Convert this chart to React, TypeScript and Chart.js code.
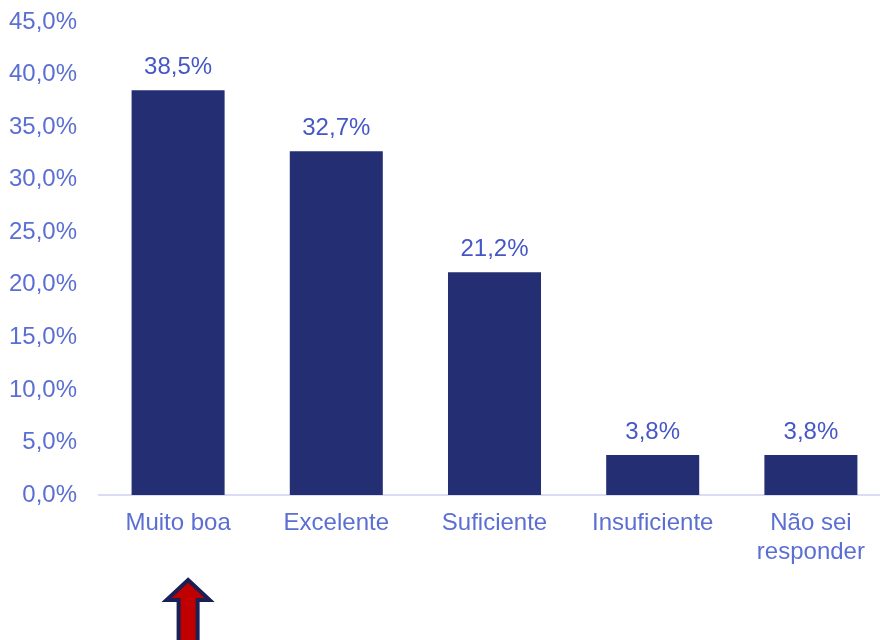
import React, { useEffect, useRef } from "react";
import { Chart, registerables } from "chart.js";

Chart.register(...registerables);

const categories: (string | string[])[] = [
  "Muito boa",
  "Excelente",
  "Suficiente",
  "Insuficiente",
  ["Não sei", "responder"],
];
const values = [38.5, 32.7, 21.2, 3.8, 3.8];
const yMin = 0;
const yMax = 45;
const yStep = 5;
const highlightIndex = 0;

const FONT = "'Liberation Sans', Arial, Helvetica, sans-serif";
const BAR_COLOR = "#232e73";
const TICK_COLOR = "#5b6fd3";
const VALUE_COLOR = "#4556c6";
const AXIS_COLOR = "#d9dcf2";

const fmt = (v: number) => v.toFixed(1).replace(".", ",") + "%";

const valueLabels = {
  id: "valueLabels",
  afterDatasetsDraw(chart: any) {
    const ctx = chart.ctx;
    const meta = chart.getDatasetMeta(0);
    ctx.save();
    ctx.font = `24px ${FONT}`;
    ctx.fillStyle = VALUE_COLOR;
    ctx.textAlign = "center";
    ctx.textBaseline = "middle";
    meta.data.forEach((bar: any, i: number) => {
      ctx.fillText(fmt(values[i]), bar.x, bar.y - 23);
    });
    ctx.restore();
  },
};

const arrowMark = {
  id: "arrowMark",
  afterDraw(chart: any) {
    const ctx = chart.ctx;
    const x = chart.scales.x.getPixelForValue(highlightIndex) + 10;
    const tip = chart.chartArea.bottom + 85;
    const base = tip + 20;
    ctx.save();
    ctx.beginPath();
    ctx.moveTo(x, tip);
    ctx.lineTo(x + 21.5, base);
    ctx.lineTo(x + 9.5, base);
    ctx.lineTo(x + 9.5, tip + 80);
    ctx.lineTo(x - 9.5, tip + 80);
    ctx.lineTo(x - 9.5, base);
    ctx.lineTo(x - 21.5, base);
    ctx.closePath();
    ctx.fillStyle = "#c00000";
    ctx.fill();
    ctx.lineWidth = 4;
    ctx.lineJoin = "miter";
    ctx.strokeStyle = "#1a1f55";
    ctx.stroke();
    ctx.restore();
  },
};

export default function App() {
  const ref = useRef<HTMLCanvasElement | null>(null);

  useEffect(() => {
    if (!ref.current) return;
    document.body.style.overflow = "hidden";
    const chart = new Chart(ref.current, {
      type: "bar",
      data: {
        labels: categories as any,
        datasets: [
          {
            data: values,
            backgroundColor: BAR_COLOR,
            borderWidth: 0,
            categoryPercentage: 1,
            barPercentage: 0.588,
          },
        ],
      },
      options: {
        responsive: false,
        animation: false,
        layout: { padding: { top: 22, left: 0, right: 0, bottom: 0 } },
        plugins: {
          legend: { display: false },
          tooltip: { enabled: false },
        },
        scales: {
          x: {
            grid: { display: false, drawTicks: false },
            border: { display: true, color: AXIS_COLOR, width: 2 },
            ticks: {
              color: TICK_COLOR,
              font: { family: FONT, size: 24, lineHeight: 1.2 },
              padding: 14,
              maxRotation: 0,
              autoSkip: false,
            },
            afterFit(scale: any) {
              scale.height = 145;
              scale.paddingLeft = 0;
              scale.paddingRight = 0;
            },
          },
          y: {
            min: yMin,
            max: yMax,
            grid: { display: false, drawTicks: false },
            border: { display: false },
            ticks: {
              stepSize: yStep,
              color: TICK_COLOR,
              font: { family: FONT, size: 24 },
              padding: 22,
              callback: (v: any) => fmt(Number(v)),
            },
            afterFit(scale: any) {
              scale.width = 99;
              scale.paddingTop = 0;
              scale.paddingBottom = 0;
            },
          },
        },
      },
      plugins: [valueLabels, arrowMark],
    });
    return () => chart.destroy();
  }, []);

  return (
    <div style={{ position: "fixed", left: 0, top: 0, width: 890, height: 640 }}>
      <canvas ref={ref} width={890} height={640} style={{ width: 890, height: 640, display: "block" }} />
    </div>
  );
}
